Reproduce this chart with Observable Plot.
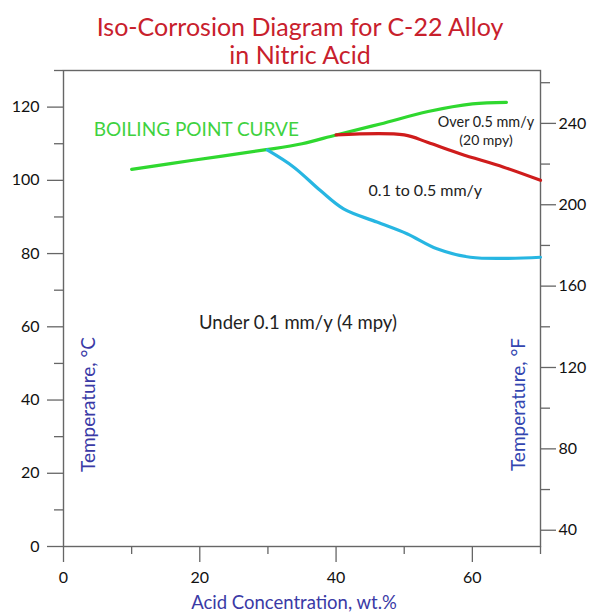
<!DOCTYPE html>
<html>
<head>
<meta charset="utf-8">
<script src="https://cdn.jsdelivr.net/npm/d3@7"></script>
<script src="https://cdn.jsdelivr.net/npm/@observablehq/plot@0.6"></script>
<style>
  html, body { margin: 0; padding: 0; background: #fff; }
</style>
</head>
<body>
<div id="chart"></div>
<script>
// ---- Data ----
const titleText = "Iso-Corrosion Diagram for C-22 Alloy\nin Nitric Acid";
const xLabel = "Acid Concentration, wt.%";
const yLabelC = "Temperature, \u00B0C";
const yLabelF = "Temperature, \u00B0F";

// Boiling point curve (wt.%, °C)
const boilingX = [10, 19, 29.5, 35, 40, 46.5, 53.5, 60, 65];
const boilingY = [103, 105.5, 108.3, 110, 112.4, 115.4, 118.8, 120.9, 121.3];
// 0.5 mm/y iso-corrosion line
const over05X = [40, 50, 53.4, 58.3, 64.6, 70];
const over05Y = [112.4, 112.4, 110.4, 107.2, 103.6, 100];
// 0.1 mm/y iso-corrosion line
const under01X = [29.9, 33.8, 37.7, 41.1, 46, 50.4, 54.8, 59.7, 70];
const under01Y = [108.3, 103.6, 97.2, 92.2, 88.6, 85.4, 81.3, 79.0, 79.0];

// Tick values
const xMajor = [0, 20, 40, 60];
const xMinor = [10, 30, 50, 70];
const cMajor = [0, 20, 40, 60, 80, 100, 120];
const cMinor = [10, 30, 50, 70, 90, 110, 130];
const fMajor = [40, 80, 120, 160, 200, 240];
const fMinor = [60, 100, 140, 180, 220, 260];

// Region annotations
const notes = [
  {x: 19.5, y: 113.9, text: "BOILING POINT CURVE", color: "#3fd23f", size: 19},
  {x: 62, y: 115.9, text: "Over 0.5 mm/y", color: "#222", size: 14.4},
  {x: 62, y: 110.9, text: "(20 mpy)", color: "#222", size: 14},
  {x: 53.1, y: 97.2, text: "0.1 to 0.5 mm/y", color: "#222", size: 16},
  {x: 34.4, y: 60.9, text: "Under 0.1 mm/y (4 mpy)", color: "#222", size: 18.5}
];

const toTable = (xs, ys) => xs.map((x, i) => ({x, y: ys[i]}));
const f2c = f => (f - 32) / 1.8;
const c2f = c => Math.round(c * 1.8 + 32);

const axisColor = "#666";
const blueLabel = "#3a3aa6";

const chart = Plot.plot({
  width: 591,
  height: 614,
  marginTop: 70,
  marginBottom: 68,
  marginLeft: 63,
  marginRight: 51,
  style: {fontFamily: "Lato, 'Open Sans', sans-serif", color: "#111", background: "#fff"},
  x: {domain: [0, 70]},
  y: {domain: [0, 130]},
  marks: [
    // Axes
    Plot.axisX(xMajor, {tickSize: 16, tickPadding: 9, fontSize: 16, stroke: axisColor, strokeWidth: 1.3, label: null, fill: "#111"}),
    Plot.axisX(xMinor, {tickSize: 8, tickFormat: () => "", stroke: axisColor, strokeWidth: 1.3, label: null}),
    Plot.axisY(cMajor, {anchor: "left", tickSize: 16, tickPadding: 8, fontSize: 16, stroke: axisColor, strokeWidth: 1.3, label: null, fill: "#111"}),
    Plot.axisY(cMinor, {anchor: "left", tickSize: 9, tickFormat: () => "", stroke: axisColor, strokeWidth: 1.3, label: null}),
    Plot.axisY(fMajor.map(f2c), {anchor: "right", tickSize: 15, tickPadding: 3, tickFormat: c2f, fontSize: 16, stroke: axisColor, strokeWidth: 1.3, label: null, fill: "#111"}),
    Plot.axisY(fMinor.map(f2c), {anchor: "right", tickSize: 9, tickFormat: () => "", stroke: axisColor, strokeWidth: 1.3, label: null}),
    Plot.frame({stroke: axisColor, strokeWidth: 1.4}),

    // Curves
    Plot.line(toTable(boilingX, boilingY), {x: "x", y: "y", stroke: "#2fd82f", strokeWidth: 3.2, curve: "catmull-rom"}),
    Plot.line(toTable(over05X, over05Y), {x: "x", y: "y", stroke: "#cf1c1c", strokeWidth: 3.2, curve: "catmull-rom"}),
    Plot.line(toTable(under01X, under01Y), {x: "x", y: "y", stroke: "#27b6e2", strokeWidth: 3.2, curve: "catmull-rom"}),

    // Annotations
    Plot.text(notes, {x: "x", y: "y", text: "text", fill: "color", fontSize: "size"}),

    // Title (two lines, one text element)
    Plot.text([titleText], {frameAnchor: "top", textAnchor: "middle", dx: -2, dy: -7, lineAnchor: "bottom", lineHeight: 1.1, fontSize: 25, fill: "#c8202c"}),

    // Axis labels
    Plot.text([xLabel], {frameAnchor: "bottom", textAnchor: "middle", dx: -8, dy: 62, lineAnchor: "bottom", fontSize: 18.5, fill: blueLabel}),
    Plot.text([yLabelC], {frameAnchor: "left", textAnchor: "middle", dx: 25, dy: 96, rotate: -90, fontSize: 19, fill: blueLabel}),
    Plot.text([yLabelF], {frameAnchor: "right", textAnchor: "middle", dx: -22, dy: 96, rotate: -90, fontSize: 19, fill: "#3346b0"})
  ]
});

document.getElementById("chart").appendChild(chart);
</script>
</body>
</html>
